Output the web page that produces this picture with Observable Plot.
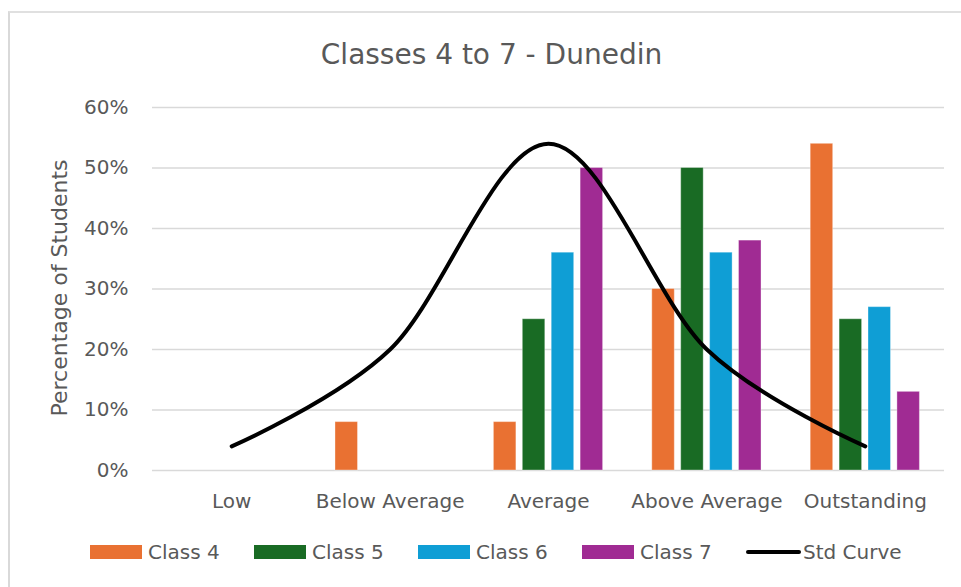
<!DOCTYPE html>
<html>
<head>
<meta charset="utf-8">
<script src="https://cdn.jsdelivr.net/npm/d3@7"></script>
<script src="https://cdn.jsdelivr.net/npm/@observablehq/plot@0.6"></script>
<style>
  html, body { margin: 0; padding: 0; background: #fff; }
  #wrap { position: relative; width: 961px; height: 587px; overflow: hidden; font-family: "DejaVu Sans", sans-serif; color: #595959; }
  #frame { position: absolute; left: 8px; top: 11px; width: 1000px; height: 1000px; border-top: 2px solid #e0e0e0; border-left: 2px solid #d9d9d9; }
  #chart { position: absolute; left: 0; top: 0; }
  #title { position: absolute; left: 0; top: 41px; width: 983px; text-align: center; font-size: 28px; line-height: 28px; color: #595959; }
  #ylabel { position: absolute; left: 60px; top: 288px; transform: translate(-50%, -50%) rotate(-90deg); white-space: nowrap; font-size: 22px; line-height: 22px; color: #595959; }
  #legend { position: absolute; left: 90px; top: 538px; height: 28px; display: flex; align-items: center; font-size: 20px; color: #595959; }
  .item { display: flex; align-items: center; width: 164px; }
  .sw { width: 52px; height: 14px; margin-right: 6px; }
  .ln { width: 55px; height: 4px; border-radius: 2px; background: #000; margin-right: 2px; }
</style>
</head>
<body>
<div id="wrap">
  <div id="frame"></div>
  <div id="chart"></div>
  <div id="title"></div>
  <div id="ylabel"></div>
  <div id="legend"></div>
</div>
<script>
const title = "Classes 4 to 7 - Dunedin";
const yLabel = "Percentage of Students";
const categories = ["Low", "Below Average", "Average", "Above Average", "Outstanding"];
const classNames = ["Class 4", "Class 5", "Class 6", "Class 7"];
const classColors = ["#E97132", "#196B24", "#0F9ED5", "#A02B93"];
const class4 = [0, 8, 8, 30, 54];
const class5 = [0, 0, 25, 50, 25];
const class6 = [0, 0, 36, 36, 27];
const class7 = [0, 0, 50, 38, 13];
const stdCurveName = "Std Curve";
const stdCurve = [4, 20, 54, 20, 4];
const yTicks = [0, 10, 20, 30, 40, 50, 60];

const series = [class4, class5, class6, class7];
const pitch = 0.1825, half = 0.071;
const bars = [];
series.forEach((vals, k) => {
  vals.forEach((v, i) => {
    if (v > 0) {
      const c = i + (k - 1.5) * pitch;
      bars.push({cls: classNames[k], x1: c - half, x2: c + half, y: v});
    }
  });
});
const curve = stdCurve.map((v, i) => ({i, v}));

const plot = Plot.plot({
  width: 961,
  height: 587,
  marginTop: 107,
  marginBottom: 117,
  marginLeft: 152,
  marginRight: 17,
  style: {fontFamily: "DejaVu Sans, sans-serif", fontSize: "20px", color: "#595959", background: "transparent"},
  x: {type: "linear", domain: [-0.5, 4.5]},
  y: {domain: [0, 60]},
  color: {domain: classNames, range: classColors},
  marks: [
    Plot.gridY(yTicks, {stroke: "#d9d9d9", strokeOpacity: 1, strokeWidth: 1.5}),
    Plot.rectY(bars, {x1: "x1", x2: "x2", y1: 0, y2: "y", fill: "cls", stroke: "#fff", strokeOpacity: 0.35, strokeWidth: 1}),
    Plot.lineY(curve, {x: "i", y: "v", curve: "cardinal", stroke: "#000", strokeWidth: 4, strokeLinecap: "round", strokeLinejoin: "round"}),
    Plot.axisY({ticks: yTicks, tickFormat: d => d + "%", tickSize: 0, tickPadding: 24, label: null, fontSize: 20}),
    Plot.axisX({ticks: d3.range(categories.length), tickFormat: i => categories[i], tickSize: 0, tickPadding: 23, label: null, fontSize: 20})
  ]
});
document.getElementById("chart").appendChild(plot);
document.getElementById("title").textContent = title;
document.getElementById("ylabel").textContent = yLabel;

const legend = document.getElementById("legend");
classNames.forEach((n, k) => {
  const it = document.createElement("div");
  it.className = "item";
  const sw = document.createElement("div");
  sw.className = "sw";
  sw.style.background = classColors[k];
  const t = document.createElement("span");
  t.textContent = n;
  it.appendChild(sw); it.appendChild(t);
  legend.appendChild(it);
});
const it = document.createElement("div");
it.className = "item";
it.style.width = "auto";
const ln = document.createElement("div");
ln.className = "ln";
const t = document.createElement("span");
t.textContent = stdCurveName;
it.appendChild(ln); it.appendChild(t);
legend.appendChild(it);
</script>
</body>
</html>
